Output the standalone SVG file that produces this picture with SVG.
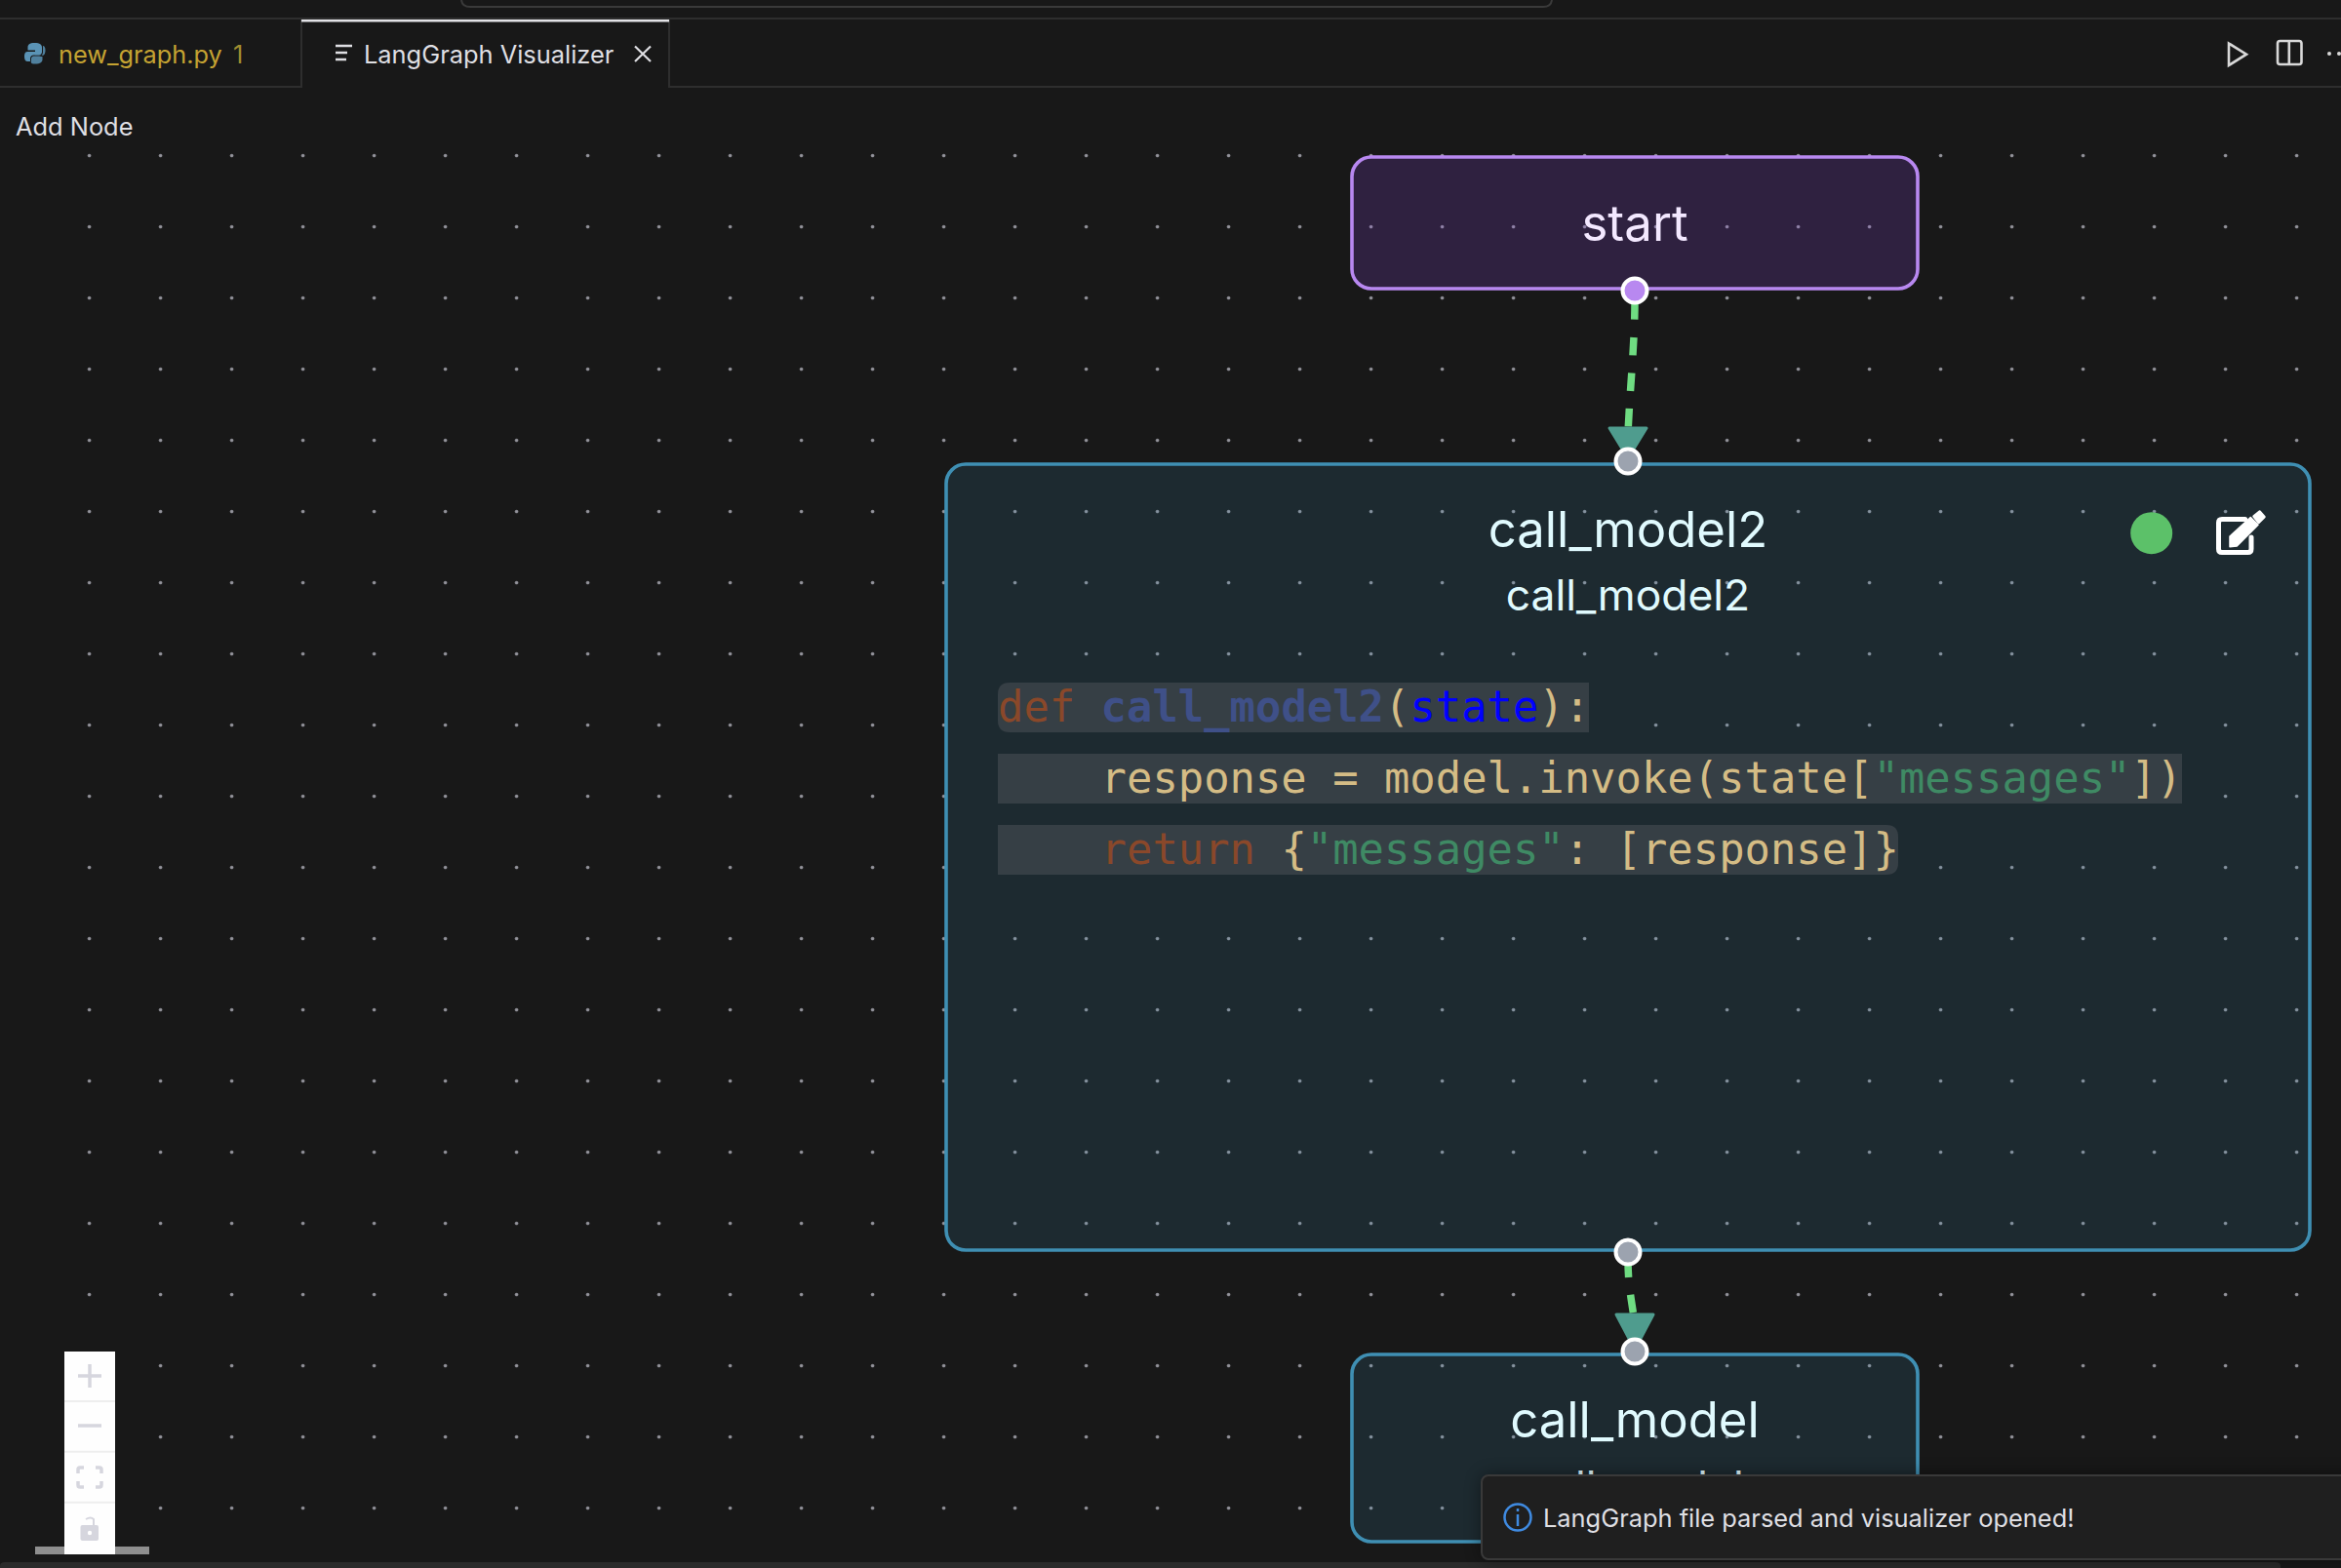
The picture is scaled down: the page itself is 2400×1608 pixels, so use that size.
<svg xmlns="http://www.w3.org/2000/svg" width="2400" height="1608" viewBox="0 0 2400 1608">
<style>
text{font-family:Inter,"Liberation Sans",sans-serif}
.ui{font-size:25.4px;fill:#dfdfe3}
.code{font-family:"DejaVu Sans Mono","Liberation Mono",monospace;font-size:43.85px;fill:#d4bc85;white-space:pre}
.hl{fill:#363f45}
.k{fill:#8a482a}.f{fill:#3f5088;font-weight:bold}.p{fill:#0000ff}.s{fill:#3f8a64}
.title{font-size:50.8px;text-anchor:middle;fill:#e0fafe}
.sub{font-size:44.4px;text-anchor:middle;fill:#e0fafe}
.tn{fill:rgba(62,146,190,.15);stroke:#3f8fb3;stroke-width:3.6}
.edge{fill:none;stroke:#6fdc82;stroke-width:7.5;stroke-dasharray:18.5 18}
.arrow{fill:#4f9c8e;stroke:#4f9c8e;stroke-width:3;stroke-linejoin:round}
.h{stroke:#fff;stroke-width:4}
.ctl{fill:none;stroke:#d6d6de;stroke-width:3.5}
.ic{fill:none;stroke:#d8d8d8;stroke-width:2.6}
</style>
<defs>
<pattern id="dots" x="55.1" y="123.1" width="73" height="73" patternUnits="userSpaceOnUse"><circle cx="36.5" cy="36.5" r="1.8" fill="#94949c"/></pattern>
<filter id="blur" x="-10%" y="-50%" width="120%" height="200%"><feGaussianBlur stdDeviation="9"/></filter>
</defs>
<rect width="2400" height="1608" fill="#181818"/>
<g id="chrome">
<path d="M473 0Q474 7 482 7H1582Q1590 7 1591 0" fill="none" stroke="#3a3a3a" stroke-width="2"/>
<rect y="18" width="2400" height="2" fill="#2e2e2e"/>
<path d="M0 89H309V20M686 20V89H2400" fill="none" stroke="#2e2e2e" stroke-width="2"/>
<rect x="309" y="20" width="377" height="2.5" fill="#e2e2e6"/>
<g fill="#5a93b5"><path d="M35.500 44C30 44 28.500 46 28.500 48.500V51.500H36V53H28C25.500 53 25 56 25 58C25 61 26 63 28.500 63H31V60C31 58 32.500 56.500 34.500 56.500H40C41.500 56.500 43 55 43 53.500V48.500C43 46 41 44 35.500 44Z"/><path d="M36 65.500C41.500 65.500 43.500 63.500 43.500 61V58H36V56.800H43.500C46 56.800 46.500 53.500 46.500 51.500C46.500 48.500 45.500 47 44 47V53.500C44 56 42 57.500 40 57.500H34.500C33 57.500 32 59 32 60V61C32 63.500 30.500 65.500 36 65.500Z" opacity=".85"/></g>
<text x="60" y="64.500" class="ui" style="fill:#c5a332;font-size:25.3px">new_graph.py</text>
<text x="239" y="64.500" class="ui" style="fill:#a08c30">1</text>
<path d="M344 47H361M344 54H356M344 61H355" stroke="#dfdfe3" stroke-width="2.500" fill="none"/>
<text x="373" y="64.500" class="ui">LangGraph Visualizer</text>
<path d="M651 47.500L667 63M667 47.500L651 63" stroke="#dfdfe3" stroke-width="2.200" fill="none"/>
<path class="ic" d="M2285 44.500L2303 55.700L2285 67Z"/>
<rect class="ic" x="2335" y="42" width="24.500" height="24" rx="2.500"/>
<path class="ic" d="M2346.800 42V66"/>
<circle cx="2388" cy="55" r="2" fill="#d8d8d8"/><circle cx="2398" cy="55" r="2" fill="#d8d8d8"/>
<text x="16" y="138.500" class="ui">Add Node</text>
</g>
<rect x="55" y="123" width="2345" height="1480" fill="url(#dots)"/>
<g id="node-start">
<rect x="1386" y="161" width="580" height="135" rx="20" fill="rgba(139,69,224,.2)" stroke="#b888f0" stroke-width="3.6"/>
<text x="1676" y="247" font-size="51" text-anchor="middle" fill="#f3e8ff">start</text>
</g>
<g id="node-call_model2">
<rect class="tn" x="970" y="476" width="1398" height="806" rx="20"/>
<text class="title" x="1669" y="561">call_model2</text>
<text class="sub" x="1669" y="625.500">call_model2</text>
<circle cx="2205.700" cy="546.700" r="21.500" fill="#5cc169"/>
<path d="M2301.700 532.500H2278Q2274.500 532.500 2274.500 536V563Q2274.500 566.500 2278 566.500H2304.500Q2308 566.500 2308 563V551" fill="none" stroke="#fff" stroke-width="5" stroke-linecap="round"/>
<path d="M2286 550L2307.300 530.500L2315 538.300L2293.300 560L2286 560.700Z" fill="#fff" stroke="#fff" stroke-width="1.500" stroke-linejoin="round"/>
<path d="M2310.500 529.500L2316.700 524.500L2321.500 530L2315.500 536Z" fill="#fff" stroke="#fff" stroke-width="2.500" stroke-linejoin="round"/>
<path class="hl" d="M1035 700H1629V751H1035Q1023 751 1023 739V712Q1023 700 1035 700Z"/>
<rect class="hl" x="1023" y="773" width="1214" height="51"/>
<path class="hl" d="M1023 846H1934Q1946 846 1946 858V885Q1946 897 1934 897H1023Z"/>
<text class="code" x="1023" y="740" xml:space="preserve"><tspan class="k">def</tspan> <tspan class="f">call_model2</tspan>(<tspan class="p">state</tspan>):</text>
<text class="code" x="1023" y="813" xml:space="preserve">    response = model.invoke(state[<tspan class="s">"messages"</tspan>])</text>
<text class="code" x="1023" y="886" xml:space="preserve">    <tspan class="k">return</tspan> {<tspan class="s">"messages"</tspan>: [response]}</text>
</g>
<g id="node-call_model">
<rect class="tn" x="1386" y="1389" width="580" height="192" rx="20"/>
<text class="title" x="1676" y="1474">call_model</text>
<text class="sub" x="1676" y="1540">call_model</text>
</g>
<g id="connectors">
<path class="edge" d="M1676 309.500C1676 350 1671 400 1669.300 438"/>
<path class="arrow" d="M1650 439H1688L1669 470Z"/>
<path class="edge" d="M1669 1291.500C1669 1312 1671 1325 1674.500 1347"/>
<path class="arrow" d="M1657 1348H1695L1676 1384Z"/>
<circle class="h" cx="1676" cy="298" r="12.500" fill="#b888f0"/>
<circle class="h" cx="1669" cy="473" r="12.500" fill="#9ca3af"/>
<circle class="h" cx="1669" cy="1284" r="12.500" fill="#9ca3af"/>
<circle class="h" cx="1676" cy="1386" r="12.500" fill="#9ca3af"/>
</g>
<g id="controls">
<rect x="36" y="1586" width="117" height="8" fill="#8f8f8f"/>
<rect x="66" y="1386" width="52" height="208" fill="#fefefe"/>
<path d="M66 1437H118M66 1488.800H118M66 1540.800H118" stroke="#eeeeee" stroke-width="2" fill="none"/>
<path class="ctl" d="M80 1411H104M92 1399V1423M80 1462H104"/>
<path class="ctl" d="M80 1511V1507Q80 1505 82 1505H86M98 1505H102Q104 1505 104 1507V1511M104 1519V1523Q104 1525 102 1525H98M86 1525H82Q80 1525 80 1523V1519"/>
<path d="M84.500 1564H99Q101 1564 101 1566V1578Q101 1580 99 1580H84.500Q82.500 1580 82.500 1578V1566Q82.500 1564 84.500 1564Z" fill="#d6d6de"/>
<circle cx="92" cy="1572" r="2.200" fill="#fff"/>
<path d="M88 1558Q93 1555 96 1558V1564" fill="none" stroke="#d6d6de" stroke-width="2"/>
</g>
<path d="M0 1608V1606Q0 1602 5 1602H2333Q2338 1602 2338 1606V1608Z" fill="#2b2b2b"/>
<g id="toast">
<rect x="1519" y="1513" width="900" height="86" rx="7" fill="#000" opacity=".45" filter="url(#blur)"/>
<rect x="1519" y="1513" width="900" height="86" rx="7" fill="#1f1f1f" stroke="#393939" stroke-width="2"/>
<circle cx="1556" cy="1556" r="13.500" fill="none" stroke="#3f8ae0" stroke-width="2.500"/>
<path d="M1556 1553V1565M1556 1547V1550" stroke="#3f8ae0" stroke-width="2.500"/>
<text x="1582" y="1566" class="ui">LangGraph file parsed and visualizer opened!</text>
</g>
</svg>
